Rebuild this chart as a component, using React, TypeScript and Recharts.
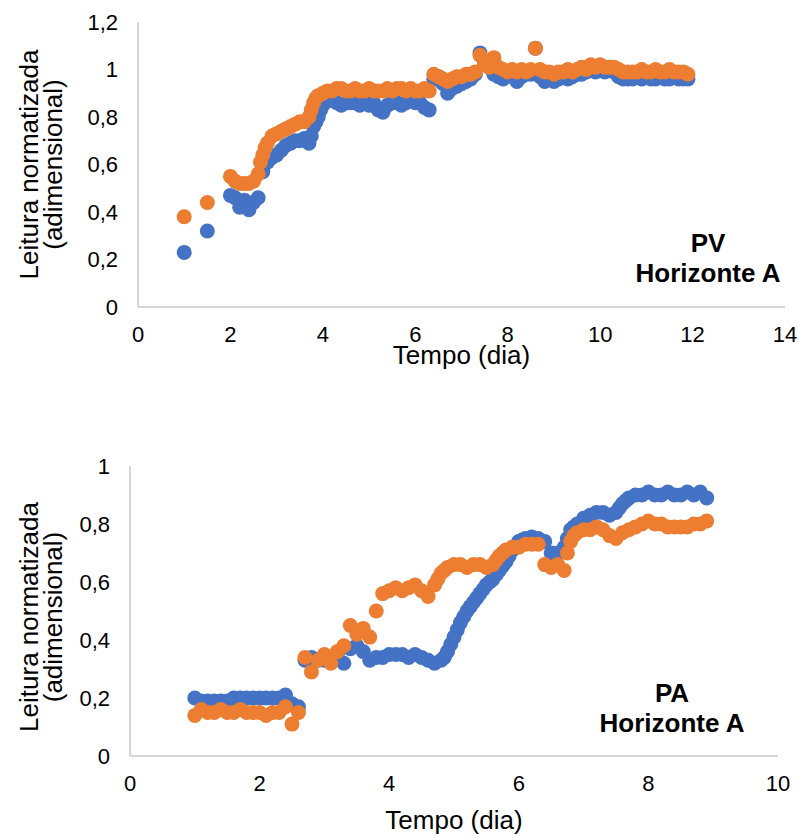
import { ScatterChart, Scatter, XAxis, YAxis } from "recharts"

// PV - Horizonte A (azul = sensor 1, laranja = sensor 2)
const tempoPV1 = [
  1.0, 1.5, 2.0, 2.1, 2.2, 2.3, 2.4, 2.5, 2.6, 2.7, 2.8, 2.9,
  3.0, 3.1, 3.2, 3.3, 3.4, 3.5, 3.6, 3.7, 3.75, 3.8, 3.85, 3.9, 3.95,
  4.0, 4.1, 4.2, 4.3, 4.4, 4.5, 4.6, 4.7, 4.8, 4.9,
  5.0, 5.1, 5.2, 5.3, 5.4, 5.5, 5.6, 5.7, 5.8, 5.9,
  6.0, 6.1, 6.2, 6.3, 6.4, 6.5, 6.6, 6.7, 6.8, 6.9,
  7.0, 7.1, 7.2, 7.3, 7.4, 7.5, 7.6, 7.7, 7.8, 7.9,
  8.0, 8.1, 8.2, 8.3, 8.4, 8.5, 8.6, 8.7, 8.8, 8.9,
  9.0, 9.1, 9.2, 9.3, 9.4, 9.5, 9.6, 9.7, 9.8, 9.9,
  10.0, 10.1, 10.2, 10.3, 10.4, 10.5, 10.6, 10.7, 10.8, 10.9,
  11.0, 11.1, 11.2, 11.3, 11.4, 11.5, 11.6, 11.7, 11.8, 11.9,
]
const leituraPV1 = [
  0.23, 0.32, 0.47, 0.46, 0.42, 0.45, 0.41, 0.44, 0.46, 0.57, 0.61, 0.63,
  0.64, 0.66, 0.68, 0.69, 0.70, 0.70, 0.71, 0.69, 0.72, 0.76, 0.78, 0.80, 0.83,
  0.85, 0.87, 0.87, 0.86, 0.85, 0.86, 0.86, 0.86, 0.85, 0.86,
  0.85, 0.86, 0.83, 0.82, 0.85, 0.86, 0.86, 0.85, 0.86, 0.87,
  0.86, 0.86, 0.84, 0.83, 0.96, 0.97, 0.94, 0.90, 0.92, 0.93,
  0.94, 0.95, 0.96, 0.98, 1.07, 1.03, 1.01, 0.98, 0.97, 0.96,
  0.98, 0.97, 0.95, 0.97, 0.98, 0.98, 1.09, 0.97, 0.95, 0.96,
  0.95, 0.96, 0.97, 0.96, 0.97, 0.98, 0.98, 0.99, 1.00, 0.99,
  1.00, 0.99, 1.01, 0.99, 0.97, 0.96, 0.96, 0.96, 0.97, 0.96,
  0.97, 0.96, 0.96, 0.97, 0.96, 0.96, 0.97, 0.96, 0.96, 0.96,
]
const tempoPV2 = [
  1.0, 1.5, 2.0, 2.1, 2.2, 2.3, 2.4, 2.5, 2.6, 2.65, 2.7, 2.75, 2.8, 2.9,
  3.0, 3.1, 3.2, 3.3, 3.4, 3.5, 3.6, 3.7, 3.75, 3.8, 3.85, 3.9,
  4.0, 4.1, 4.2, 4.3, 4.4, 4.5, 4.6, 4.7, 4.8, 4.9,
  5.0, 5.1, 5.2, 5.3, 5.4, 5.5, 5.6, 5.7, 5.8, 5.9,
  6.0, 6.1, 6.2, 6.3, 6.4, 6.5, 6.6, 6.7, 6.8, 6.9,
  7.0, 7.1, 7.2, 7.3, 7.4, 7.5, 7.6, 7.7, 7.8, 7.9,
  8.0, 8.1, 8.2, 8.3, 8.4, 8.5, 8.6, 8.7, 8.8, 8.9,
  9.0, 9.1, 9.2, 9.3, 9.4, 9.5, 9.6, 9.7, 9.8, 9.9,
  10.0, 10.1, 10.2, 10.3, 10.4, 10.5, 10.6, 10.7, 10.8, 10.9,
  11.0, 11.1, 11.2, 11.3, 11.4, 11.5, 11.6, 11.7, 11.8, 11.9,
]
const leituraPV2 = [
  0.38, 0.44, 0.55, 0.53, 0.52, 0.52, 0.52, 0.53, 0.56, 0.61, 0.64, 0.67, 0.69, 0.72,
  0.73, 0.74, 0.75, 0.76, 0.77, 0.78, 0.78, 0.80, 0.83, 0.86, 0.88, 0.89,
  0.90, 0.91, 0.91, 0.92, 0.92, 0.91, 0.91, 0.92, 0.91, 0.91,
  0.92, 0.91, 0.91, 0.91, 0.92, 0.91, 0.92, 0.92, 0.91, 0.92,
  0.91, 0.91, 0.92, 0.91, 0.98, 0.97, 0.96, 0.95, 0.96, 0.97,
  0.97, 0.98, 0.98, 0.99, 1.06, 1.02, 1.01, 1.05, 1.01, 1.00,
  0.99, 1.00, 0.99, 1.00, 0.99, 1.00, 1.09, 1.00, 0.99, 0.99,
  0.98, 0.99, 0.99, 1.00, 0.99, 1.00, 1.01, 1.00, 1.02, 1.01,
  1.02, 1.01, 1.01, 1.01, 1.00, 0.99, 0.99, 0.99, 0.99, 1.00,
  0.99, 0.99, 1.00, 0.99, 0.99, 1.00, 0.99, 0.99, 0.99, 0.98,
]

// PA - Horizonte A
const tempoPA1 = [
  1.0, 1.1, 1.2, 1.3, 1.4, 1.5, 1.6, 1.7, 1.8, 1.9,
  2.0, 2.1, 2.2, 2.3, 2.4, 2.5, 2.6, 2.7, 2.8, 2.9,
  3.0, 3.1, 3.2, 3.3, 3.4, 3.5, 3.6, 3.7, 3.8, 3.9,
  4.0, 4.1, 4.2, 4.3, 4.4, 4.5, 4.6, 4.7, 4.8,
  4.85, 4.9, 4.95, 5.0, 5.05, 5.1, 5.15, 5.2, 5.25, 5.3, 5.35, 5.4, 5.45,
  5.5, 5.55, 5.6, 5.65, 5.7, 5.75, 5.8, 5.85, 5.9, 5.95, 6.0, 6.05,
  6.1, 6.2, 6.3, 6.4, 6.5, 6.6, 6.7, 6.75, 6.8, 6.85, 6.9,
  7.0, 7.1, 7.2, 7.3, 7.4, 7.5, 7.55, 7.6, 7.65, 7.7, 7.8, 7.9,
  8.0, 8.1, 8.2, 8.3, 8.4, 8.5, 8.6, 8.7, 8.8, 8.9,
]
const leituraPA1 = [
  0.20, 0.19, 0.19, 0.19, 0.19, 0.19, 0.20, 0.20, 0.20, 0.20,
  0.20, 0.20, 0.20, 0.20, 0.21, 0.18, 0.17, 0.33, 0.34, 0.33,
  0.33, 0.34, 0.35, 0.32, 0.37, 0.38, 0.36, 0.33, 0.34, 0.34,
  0.35, 0.35, 0.35, 0.34, 0.35, 0.34, 0.33, 0.32, 0.33,
  0.34, 0.36, 0.385, 0.41, 0.435, 0.46, 0.48, 0.50, 0.515, 0.53, 0.545, 0.56, 0.575,
  0.59, 0.60, 0.61, 0.625, 0.64, 0.655, 0.67, 0.69, 0.71, 0.725, 0.74, 0.745,
  0.75, 0.755, 0.75, 0.74, 0.70, 0.70, 0.72, 0.75, 0.78, 0.79, 0.80,
  0.82, 0.83, 0.84, 0.84, 0.83, 0.84, 0.855, 0.87, 0.88, 0.89, 0.90, 0.90,
  0.91, 0.90, 0.90, 0.91, 0.90, 0.90, 0.91, 0.90, 0.91, 0.89,
]
const tempoPA2 = [
  1.0, 1.1, 1.2, 1.3, 1.4, 1.5, 1.6, 1.7, 1.8, 1.9,
  2.0, 2.1, 2.2, 2.3, 2.4, 2.5, 2.6, 2.7, 2.8, 2.9,
  3.0, 3.1, 3.2, 3.3, 3.4, 3.5, 3.6, 3.7, 3.8, 3.9,
  4.0, 4.1, 4.2, 4.3, 4.4, 4.5, 4.6, 4.7,
  4.75, 4.8, 4.85, 4.9,
  5.0, 5.1, 5.2, 5.3, 5.4, 5.5, 5.6,
  5.65, 5.7, 5.75, 5.8, 5.9,
  6.0, 6.1, 6.2, 6.3, 6.4, 6.5, 6.6, 6.7,
  6.75, 6.8, 6.85, 6.9,
  7.0, 7.1, 7.2, 7.3, 7.4, 7.5, 7.6, 7.7, 7.8, 7.9,
  8.0, 8.1, 8.2, 8.3, 8.4, 8.5, 8.6, 8.7, 8.8, 8.9,
]
const leituraPA2 = [
  0.14, 0.16, 0.15, 0.15, 0.16, 0.15, 0.15, 0.16, 0.15, 0.15,
  0.15, 0.14, 0.15, 0.15, 0.17, 0.11, 0.15, 0.34, 0.29, 0.33,
  0.35, 0.32, 0.36, 0.38, 0.45, 0.42, 0.44, 0.41, 0.50, 0.56,
  0.57, 0.58, 0.57, 0.58, 0.59, 0.57, 0.55, 0.59,
  0.61, 0.63, 0.64, 0.65,
  0.66, 0.66, 0.65, 0.66, 0.66, 0.65, 0.66,
  0.675, 0.69, 0.70, 0.71, 0.72,
  0.72, 0.73, 0.73, 0.73, 0.66, 0.65, 0.66, 0.64,
  0.70, 0.74, 0.76, 0.77,
  0.78, 0.78, 0.79, 0.78, 0.76, 0.75, 0.77, 0.78, 0.79, 0.80,
  0.81, 0.80, 0.80, 0.79, 0.79, 0.79, 0.79, 0.80, 0.80, 0.81,
]

const xTicksPV = [0, 2, 4, 6, 8, 10, 12, 14]
const yTicksPV = [0, 0.2, 0.4, 0.6, 0.8, 1, 1.2]
const xTicksPA = [0, 2, 4, 6, 8, 10]
const yTicksPA = [0, 0.2, 0.4, 0.6, 0.8, 1]

const BLUE = "#4472C4"
const ORANGE = "#ED7D31"
const AXIS = "#c9c9c9"
const FONT = "'Liberation Sans', Arial, sans-serif"

const toPoints = (t: number[], v: number[]) => t.map((x, i) => ({ x, y: v[i] }))
const fmt = (v: number) => String(v).replace(".", ",")

const dot = (color: string) => (p: any) => <circle cx={p.cx} cy={p.cy} r={7.5} fill={color} />

const YTitle = (shift: number) => ({ viewBox }: any) => {
  const cy = viewBox.y + viewBox.height / 2 + shift
  return (
    <g fontFamily={FONT} fontSize={26} fill="#000">
      <text x={38} y={cy} transform={`rotate(-90 38 ${cy})`} textAnchor="middle">Leitura normatizada</text>
      <text x={62} y={cy} transform={`rotate(-90 62 ${cy})`} textAnchor="middle">(adimensional)</text>
    </g>
  )
}

const XTitle = (dy: number) => ({ viewBox }: any) => (
  <text x={viewBox.x + viewBox.width / 2} y={viewBox.y + dy} textAnchor="middle"
    fontFamily={FONT} fontSize={26} fill="#000">Tempo (dia)</text>
)

const tickStyle = { fontFamily: FONT, fontSize: 22, fill: "#000" }

const Note = ({ top, left, l1 }: { top: number; left: number; l1: string }) => (
  <div style={{ position: "absolute", top, left, width: 200, textAlign: "center",
    fontFamily: FONT, fontWeight: "bold", fontSize: 26, lineHeight: "30px", color: "#000" }}>
    <div>{l1}</div>
    <div>Horizonte A</div>
  </div>
)

export default function App() {
  return (
    <div style={{ position: "absolute", left: 0, top: 0, width: 798, height: 836, background: "#fff" }}>
      <div style={{ position: "absolute", left: 0, top: 0 }}>
        <ScatterChart width={798} height={390} margin={{ top: 22, right: 13, bottom: 0, left: 0 }}>
          <XAxis type="number" dataKey="x" domain={[0, 14]} ticks={xTicksPV} tickFormatter={fmt}
            axisLine={{ stroke: AXIS, strokeWidth: 1.5 }} tickLine={false} tickSize={0} tickMargin={19}
            tick={tickStyle} height={83} label={XTitle(57)} />
          <YAxis type="number" dataKey="y" domain={[0, 1.2]} ticks={yTicksPV} tickFormatter={fmt}
            axisLine={{ stroke: AXIS, strokeWidth: 1.5 }} tickLine={false} tickSize={0} tickMargin={20}
            tick={tickStyle} width={138} label={YTitle(0)} />
          <Scatter name="Sensor 1" data={toPoints(tempoPV1, leituraPV1)} fill={BLUE} shape={dot(BLUE)} isAnimationActive={false} />
          <Scatter name="Sensor 2" data={toPoints(tempoPV2, leituraPV2)} fill={ORANGE} shape={dot(ORANGE)} isAnimationActive={false} />
        </ScatterChart>
      </div>
      <div style={{ position: "absolute", left: 0, top: 440 }}>
        <ScatterChart width={798} height={396} margin={{ top: 26, right: 20, bottom: 0, left: 0 }}>
          <XAxis type="number" dataKey="x" domain={[0, 10]} ticks={xTicksPA} tickFormatter={fmt}
            axisLine={{ stroke: AXIS, strokeWidth: 1.5 }} tickLine={false} tickSize={0} tickMargin={19}
            tick={tickStyle} height={80} label={XTitle(73)} />
          <YAxis type="number" dataKey="y" domain={[0, 1]} ticks={yTicksPA} tickFormatter={fmt}
            axisLine={{ stroke: AXIS, strokeWidth: 1.5 }} tickLine={false} tickSize={0} tickMargin={20}
            tick={tickStyle} width={130} label={YTitle(6)} />
          <Scatter name="Sensor 1" data={toPoints(tempoPA1, leituraPA1)} fill={BLUE} shape={dot(BLUE)} isAnimationActive={false} />
          <Scatter name="Sensor 2" data={toPoints(tempoPA2, leituraPA2)} fill={ORANGE} shape={dot(ORANGE)} isAnimationActive={false} />
        </ScatterChart>
      </div>
      <Note top={228} left={608} l1="PV" />
      <Note top={678} left={572} l1="PA" />
    </div>
  )
}
